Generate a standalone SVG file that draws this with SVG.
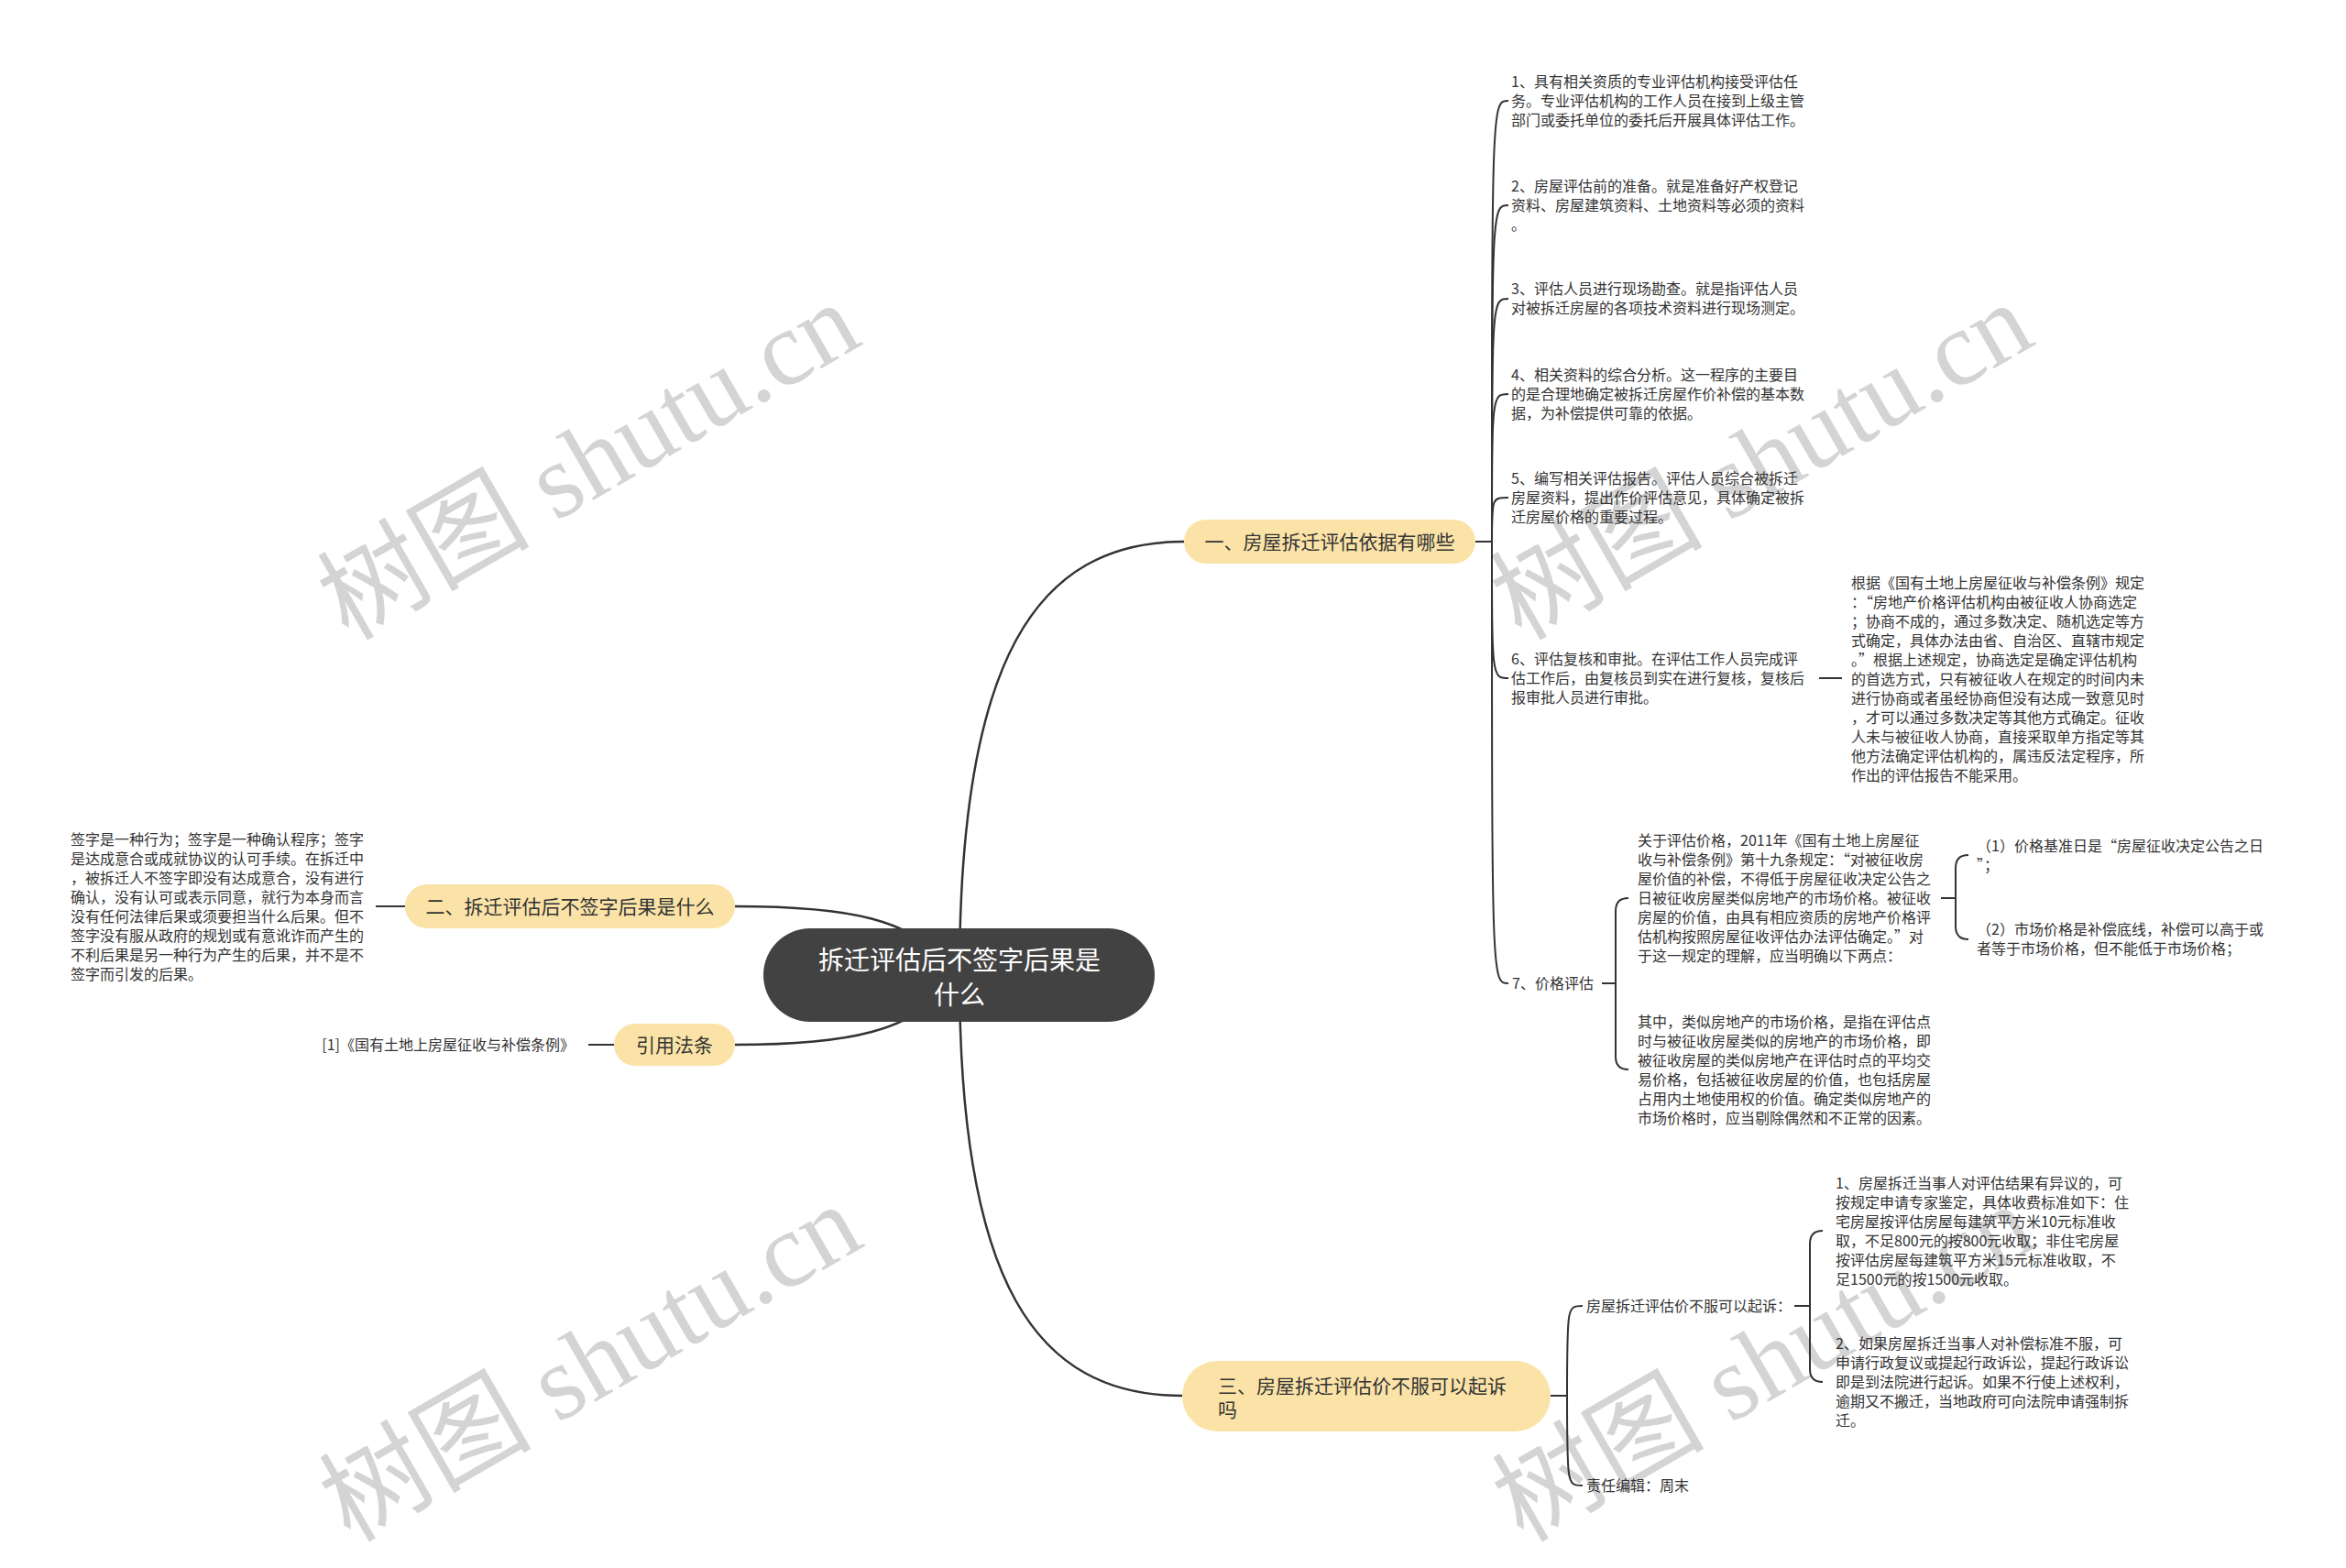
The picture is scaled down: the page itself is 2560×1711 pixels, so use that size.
<svg xmlns="http://www.w3.org/2000/svg" width="2560" height="1711" viewBox="0 0 2560 1711">
<style>
.bg{fill:#ffffff}
.wm{font-family:"Liberation Serif","Noto Sans CJK SC",serif;font-size:116px;fill:#d4d4d4}
.t{font-family:"Noto Sans CJK SC","Microsoft YaHei",sans-serif;font-size:16px;fill:#333333}
.n{font-family:"Noto Sans CJK SC","Microsoft YaHei",sans-serif;font-size:21px;fill:#333333}
.c{font-family:"Noto Sans CJK SC","Microsoft YaHei",sans-serif;font-size:28px;fill:#ffffff}
.yel{fill:#fbe3a8}
.dark{fill:#424242}
.main{fill:none;stroke:#333333;stroke-width:2.5}
.sub{fill:none;stroke:#333333;stroke-width:2}
</style>
<rect class="bg" x="0" y="0" width="2560" height="1711"/>
<g id="watermarks">
<text class="wm" x="380" y="700" transform="rotate(-30 380 700)">树图 shutu.cn</text>
<text class="wm" x="1660" y="700" transform="rotate(-30 1660 700)">树图 shutu.cn</text>
<text class="wm" x="382" y="1684" transform="rotate(-30 382 1684)">树图 shutu.cn</text>
<text class="wm" x="1662" y="1684" transform="rotate(-30 1662 1684)">树图 shutu.cn</text>
</g>
<g id="connectors">
<path class="main" d="M1047 1064 C1047 720 1130 591 1292 591"/>
<path class="main" d="M1047 1064 C1047 1400 1130 1523 1290 1523"/>
<path class="main" d="M1047 1064 C1000 1000 920 989 802 989"/>
<path class="main" d="M1047 1064 C1000 1128 920 1140 802 1140"/>
<path class="sub" d="M1610 591 H1628"/>
<path class="sub" d="M1628 591 C1628 110 1628 110 1646 110"/>
<path class="sub" d="M1628 591 C1628 224 1628 224 1646 224"/>
<path class="sub" d="M1628 591 C1628 326 1628 326 1646 326"/>
<path class="sub" d="M1628 591 C1628 430 1628 430 1646 430"/>
<path class="sub" d="M1628 591 C1628 543 1628 543 1646 543"/>
<path class="sub" d="M1628 591 C1628 740 1628 740 1646 740"/>
<path class="sub" d="M1628 591 C1628 1073 1628 1073 1646 1073"/>
<path class="sub" d="M1985 740 H2010"/>
<path class="sub" d="M1748 1073 H1763"/>
<path class="sub" d="M1777 980 Q1763 980 1763 994 V1153 Q1763 1167 1777 1167"/>
<path class="sub" d="M2118 980 H2134"/>
<path class="sub" d="M2148 933 Q2134 933 2134 947 V1011 Q2134 1025 2148 1025"/>
<path class="sub" d="M1692 1523 H1710"/>
<path class="sub" d="M1710 1523 C1710 1425 1710 1425 1727 1425"/>
<path class="sub" d="M1710 1523 C1710 1621 1710 1621 1727 1621"/>
<path class="sub" d="M1958 1425 H1975"/>
<path class="sub" d="M1989 1343 Q1975 1343 1975 1357 V1494 Q1975 1508 1989 1508"/>
<path class="sub" d="M442 989 H410"/>
<path class="sub" d="M670 1140 H642"/>
</g>
<g id="center">
<rect class="dark" x="833" y="1013" width="427" height="102" rx="51" ry="51"/>
<text class="c" text-anchor="middle"><tspan x="1047" y="1058">拆迁评估后不签字后果是</tspan><tspan x="1047" y="1096">什么</tspan></text>
</g>
<g id="node1">
<rect class="yel" x="1292" y="567" width="318" height="48" rx="24" ry="24"/>
<text class="n" x="1451" y="599" text-anchor="middle">一、房屋拆迁评估依据有哪些</text>
</g>
<g id="node2">
<rect class="yel" x="442" y="965" width="360" height="48" rx="24" ry="24"/>
<text class="n" x="622" y="997" text-anchor="middle">二、拆迁评估后不签字后果是什么</text>
</g>
<g id="node-law">
<rect class="yel" x="670" y="1117" width="132" height="46" rx="23" ry="23"/>
<text class="n" x="736" y="1148" text-anchor="middle">引用法条</text>
</g>
<g id="node3">
<rect class="yel" x="1290" y="1485" width="402" height="77" rx="38.5" ry="38.5"/>
<text class="n"><tspan x="1329" y="1520">三、房屋拆迁评估价不服可以起诉</tspan><tspan x="1329" y="1546">吗</tspan></text>
</g>
<g id="item1">
<text class="t"><tspan x="1649" y="95">1、具有相关资质的专业评估机构接受评估任</tspan><tspan x="1649" y="116">务。专业评估机构的工作人员在接到上级主管</tspan><tspan x="1649" y="137">部门或委托单位的委托后开展具体评估工作。</tspan></text>
</g>
<g id="item2">
<text class="t"><tspan x="1649" y="209">2、房屋评估前的准备。就是准备好产权登记</tspan><tspan x="1649" y="230">资料、房屋建筑资料、土地资料等必须的资料</tspan><tspan x="1649" y="251">。</tspan></text>
</g>
<g id="item3">
<text class="t"><tspan x="1649" y="321">3、评估人员进行现场勘查。就是指评估人员</tspan><tspan x="1649" y="342">对被拆迁房屋的各项技术资料进行现场测定。</tspan></text>
</g>
<g id="item4">
<text class="t"><tspan x="1649" y="415">4、相关资料的综合分析。这一程序的主要目</tspan><tspan x="1649" y="436">的是合理地确定被拆迁房屋作价补偿的基本数</tspan><tspan x="1649" y="457">据，为补偿提供可靠的依据。</tspan></text>
</g>
<g id="item5">
<text class="t"><tspan x="1649" y="528">5、编写相关评估报告。评估人员综合被拆迁</tspan><tspan x="1649" y="549">房屋资料，提出作价评估意见，具体确定被拆</tspan><tspan x="1649" y="570">迁房屋价格的重要过程。</tspan></text>
</g>
<g id="item6">
<text class="t"><tspan x="1649" y="725">6、评估复核和审批。在评估工作人员完成评</tspan><tspan x="1649" y="746">估工作后，由复核员到实在进行复核，复核后</tspan><tspan x="1649" y="767">报审批人员进行审批。</tspan></text>
</g>
<g id="item6-detail">
<text class="t"><tspan x="2020" y="642">根据《国有土地上房屋征收与补偿条例》规定</tspan><tspan x="2020" y="663">：“房地产价格评估机构由被征收人协商选定</tspan><tspan x="2020" y="684">；协商不成的，通过多数决定、随机选定等方</tspan><tspan x="2020" y="705">式确定，具体办法由省、自治区、直辖市规定</tspan><tspan x="2020" y="726">。”根据上述规定，协商选定是确定评估机构</tspan><tspan x="2020" y="747">的首选方式，只有被征收人在规定的时间内未</tspan><tspan x="2020" y="768">进行协商或者虽经协商但没有达成一致意见时</tspan><tspan x="2020" y="789">，才可以通过多数决定等其他方式确定。征收</tspan><tspan x="2020" y="810">人未与被征收人协商，直接采取单方指定等其</tspan><tspan x="2020" y="831">他方法确定评估机构的，属违反法定程序，所</tspan><tspan x="2020" y="852">作出的评估报告不能采用。</tspan></text>
</g>
<g id="item7">
<text class="t" x="1650" y="1079">7、价格评估</text>
</g>
<g id="item7-a">
<text class="t"><tspan x="1787" y="923">关于评估价格，2011年《国有土地上房屋征</tspan><tspan x="1787" y="944">收与补偿条例》第十九条规定：“对被征收房</tspan><tspan x="1787" y="965">屋价值的补偿，不得低于房屋征收决定公告之</tspan><tspan x="1787" y="986">日被征收房屋类似房地产的市场价格。被征收</tspan><tspan x="1787" y="1007">房屋的价值，由具有相应资质的房地产价格评</tspan><tspan x="1787" y="1028">估机构按照房屋征收评估办法评估确定。”对</tspan><tspan x="1787" y="1049">于这一规定的理解，应当明确以下两点：</tspan></text>
</g>
<g id="item7-b">
<text class="t"><tspan x="1787" y="1121">其中，类似房地产的市场价格，是指在评估点</tspan><tspan x="1787" y="1142">时与被征收房屋类似的房地产的市场价格，即</tspan><tspan x="1787" y="1163">被征收房屋的类似房地产在评估时点的平均交</tspan><tspan x="1787" y="1184">易价格，包括被征收房屋的价值，也包括房屋</tspan><tspan x="1787" y="1205">占用内土地使用权的价值。确定类似房地产的</tspan><tspan x="1787" y="1226">市场价格时，应当剔除偶然和不正常的因素。</tspan></text>
</g>
<g id="item7-a1">
<text class="t"><tspan x="2157" y="929">（1）价格基准日是“房屋征收决定公告之日</tspan><tspan x="2157" y="950">”；</tspan></text>
</g>
<g id="item7-a2">
<text class="t"><tspan x="2157" y="1020">（2）市场价格是补偿底线，补偿可以高于或</tspan><tspan x="2157" y="1041">者等于市场价格，但不能低于市场价格；</tspan></text>
</g>
<g id="sue">
<text class="t" x="1731" y="1431">房屋拆迁评估价不服可以起诉：</text>
</g>
<g id="sue-1">
<text class="t"><tspan x="2003" y="1297">1、房屋拆迁当事人对评估结果有异议的，可</tspan><tspan x="2003" y="1318">按规定申请专家鉴定，具体收费标准如下：住</tspan><tspan x="2003" y="1339">宅房屋按评估房屋每建筑平方米10元标准收</tspan><tspan x="2003" y="1360">取，不足800元的按800元收取；非住宅房屋</tspan><tspan x="2003" y="1381">按评估房屋每建筑平方米15元标准收取，不</tspan><tspan x="2003" y="1402">足1500元的按1500元收取。</tspan></text>
</g>
<g id="sue-2">
<text class="t"><tspan x="2003" y="1472">2、如果房屋拆迁当事人对补偿标准不服，可</tspan><tspan x="2003" y="1493">申请行政复议或提起行政诉讼，提起行政诉讼</tspan><tspan x="2003" y="1514">即是到法院进行起诉。如果不行使上述权利，</tspan><tspan x="2003" y="1535">逾期又不搬迁，当地政府可向法院申请强制拆</tspan><tspan x="2003" y="1556">迁。</tspan></text>
</g>
<g id="editor">
<text class="t" x="1731" y="1627">责任编辑：周末</text>
</g>
<g id="sign-detail">
<text class="t"><tspan x="77" y="922">签字是一种行为；签字是一种确认程序；签字</tspan><tspan x="77" y="943">是达成意合或成就协议的认可手续。在拆迁中</tspan><tspan x="77" y="964">，被拆迁人不签字即没有达成意合，没有进行</tspan><tspan x="77" y="985">确认，没有认可或表示同意，就行为本身而言</tspan><tspan x="77" y="1006">没有任何法律后果或须要担当什么后果。但不</tspan><tspan x="77" y="1027">签字没有服从政府的规划或有意讹诈而产生的</tspan><tspan x="77" y="1048">不利后果是另一种行为产生的后果，并不是不</tspan><tspan x="77" y="1069">签字而引发的后果。</tspan></text>
</g>
<g id="law-detail">
<text class="t" x="627" y="1146" text-anchor="end">[1]《国有土地上房屋征收与补偿条例》</text>
</g>
</svg>
